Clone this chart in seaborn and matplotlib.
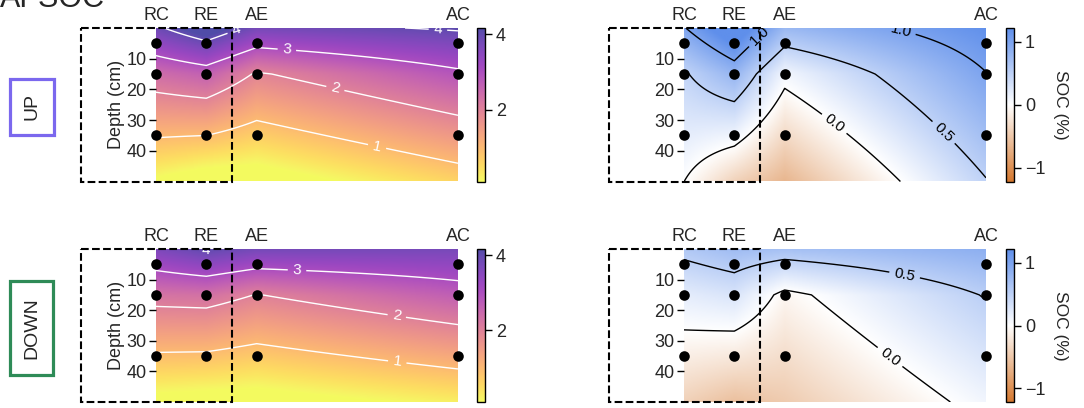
import numpy as np
import matplotlib
matplotlib.use("Agg")
import matplotlib.pyplot as plt
from matplotlib.colors import LinearSegmentedColormap
from matplotlib.patches import Rectangle
import seaborn as sns
import pandas as pd

# ---------------- data ----------------
stations = ["RC", "RE", "AE", "AC"]
station_x = [0, 1, 2, 6]
depths = [5, 15, 35]

# SOC (%) per station (rows) at depths 5, 15, 35 cm
up_soc = [[3.40, 2.40, 1.05],
          [3.90, 2.65, 1.00],
          [3.17, 1.93, 0.70],
          [3.67, 2.86, 1.58]]
down_soc = [[3.19, 2.25, 0.92],
            [3.45, 2.30, 0.90],
            [3.17, 1.98, 0.75],
            [3.38, 2.67, 1.29]]
# SOC change (%)
up_diff = [[0.81, 0.465, 0.20],
           [1.25, 0.81, 0.12],
           [0.55, 0.10, -0.33],
           [1.13, 0.99, 0.70]]
down_diff = [[0.46, 0.20, -0.15],
             [0.58, 0.29, -0.20],
             [0.42, -0.08, -0.30],
             [0.75, 0.52, 0.28]]

soc_levels = [1, 2, 3, 4]
diff_levels = [0.0, 0.5, 1.0]
row_labels = ["UP", "DOWN"]

# ---------------- style ----------------
sns.set_theme(style="white")
plt.rcParams["font.family"] = ["Liberation Sans", "DejaVu Sans"]
plt.rcParams["font.size"] = 13

W, H = 1084, 408
fig = plt.figure(figsize=(W / 100, H / 100), dpi=100)


def blend(cmap, alpha, n=256):
    cols = cmap(np.linspace(0, 1, n))
    cols[:, :3] = alpha * cols[:, :3] + (1 - alpha)
    cols[:, 3] = 1
    return LinearSegmentedColormap.from_list("b", cols)


soc_cmap = blend(plt.get_cmap("plasma_r"), 0.72)
diff_cmap = LinearSegmentedColormap.from_list(
    "div", ["#D5782F", "#FFFFFF", "#5F8FEB"])


def extrap(d, dp, vp):
    d = np.asarray(d, float)
    out = np.interp(d, dp, vp)
    lo = d < dp[0]
    out[lo] = vp[0] + (d[lo] - dp[0]) * (vp[1] - vp[0]) / (dp[1] - dp[0])
    hi = d > dp[-1]
    out[hi] = vp[-1] + (d[hi] - dp[-1]) * (vp[-1] - vp[-2]) / (dp[-1] - dp[-2])
    return out


def field(vals):
    xs = np.linspace(0, 6, 301)
    ds = np.linspace(0, 50, 251)
    cols = np.array([extrap(ds, depths, v) for v in vals])  # station x depth
    grid = np.array([np.interp(xs, station_x, cols[:, j]) for j in range(len(ds))])
    return xs, ds, grid


def px_rect(x0, y0, x1, y1):
    return [x0 / W, 1 - y1 / H, (x1 - x0) / W, (y1 - y0) / H]


rows_y = [(28, 181.5), (249, 402)]
cols_x = [(156, 458), (684, 986)]
cbar_x = [(477, 485), (1006, 1014)]

panels = [
    [(up_soc, "soc"), (up_diff, "diff")],
    [(down_soc, "soc"), (down_diff, "diff")],
]

clabel_pos = [
    [[(1.6, 1), (5.6, 1), (2.6, 7), (3.6, 17), (4.4, 38)],
     [(1.6, 4), (4.3, 1), (5.1, 35), (2.9, 33)]],
    [[(1.0, 0.3), (2.8, 7.5), (4.8, 20), (4.8, 36)],
     [(4.4, 7), (4.2, 33)]],
]

box_rects = [(10, 78.5, 54, 134.5), (10, 280.5, 53, 375)]
box_colors = ["#7B68EE", "#2E8B57"]

for r in range(2):
    y0, y1 = rows_y[r]
    for c in range(2):
        vals, kind = panels[r][c]
        x0, x1 = cols_x[c]
        ax = fig.add_axes(px_rect(x0, y0, x1, y1))
        xs, ds, grid = field(vals)
        if kind == "soc":
            cmap, vmin, vmax, lc, levels, fmt = soc_cmap, 0.1, 4.16, "white", soc_levels, "%d"
        else:
            cmap, vmin, vmax, lc, levels, fmt = diff_cmap, -1.22, 1.22, "black", diff_levels, "%.1f"
        im = ax.imshow(grid, extent=[0, 6, 50, 0], origin="upper", aspect="auto",
                       cmap=cmap, vmin=vmin, vmax=vmax, interpolation="bilinear")
        X, D = np.meshgrid(xs, ds)
        cs = ax.contour(X, D, grid, levels=levels, colors=lc, linewidths=1.0)
        ax.clabel(cs, fmt=fmt, fontsize=11, colors=lc, inline=True,
                  manual=clabel_pos[r][c])
        # sample points
        pts = pd.DataFrame([(sx, d) for sx in station_x for d in depths],
                           columns=["x", "depth"])
        sns.scatterplot(data=pts, x="x", y="depth", ax=ax, color="black", s=58,
                        edgecolor="black", linewidth=0, clip_on=False, zorder=6,
                        legend=False)
        ax.set_xlim(0, 6)
        ax.set_ylim(50, 0)
        ax.xaxis.tick_top()
        ax.set_xticks(station_x, stations)
        ax.set_yticks([10, 20, 30, 40])
        ax.tick_params(axis="x", length=0, pad=3, labelsize=13)
        ax.tick_params(axis="y", length=5, width=1, color="black", pad=2, labelsize=13,
                       left=True)
        ax.set_xlabel("")
        if c == 0:
            ax.set_ylabel("Depth (cm)", fontsize=13, labelpad=1)
        else:
            ax.set_ylabel("")
        for s in ax.spines.values():
            s.set_visible(False)
        ax.add_patch(Rectangle((-1.5, 0), 3, 50, fill=False, ls="--", lw=1.5,
                               ec="black", clip_on=False, zorder=7))
        # colorbar
        cx0, cx1 = cbar_x[c]
        cax = fig.add_axes(px_rect(cx0, y0, cx1, y1))
        cb = fig.colorbar(im, cax=cax)
        cb.outline.set_linewidth(1.0)
        cb.outline.set_edgecolor("black")
        cax.tick_params(length=5, width=1, color="black", labelsize=13, right=True, pad=3)
        if kind == "soc":
            cb.set_ticks([2, 4])
        else:
            cb.set_ticks([-1, 0, 1])
            cb.set_label("SOC (%)", rotation=270, fontsize=12.5, labelpad=16)
    # row label box
    bx0, by0, bx1, by1 = box_rects[r]
    fig.patches.append(Rectangle((bx0 / W, 1 - by1 / H), (bx1 - bx0) / W, (by1 - by0) / H,
                                 transform=fig.transFigure, fill=False,
                                 ec=box_colors[r], lw=2.3))
    fig.text((bx0 + bx1) / 2 / W, 1 - (by0 + by1) / 2 / H, row_labels[r], rotation=90,
             ha="center", va="center", fontsize=14)

fig.text(0.0, 1 - 7 / H, "AFSOC", fontsize=22, ha="left", va="baseline")

fig.savefig("out.png", dpi=100)
